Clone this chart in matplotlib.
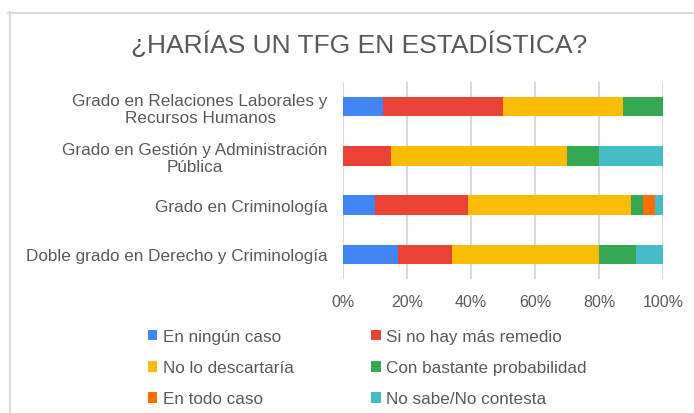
import matplotlib
matplotlib.use("Agg")
import matplotlib.pyplot as plt
from matplotlib.lines import Line2D
from matplotlib.patches import Patch
import numpy as np

plt.rcParams['font.family'] = ['Liberation Sans', 'DejaVu Sans']

title = "¿HARÍAS UN TFG EN ESTADÍSTICA?"
categories = [
    "Grado en Relaciones Laborales y\nRecursos Humanos",
    "Grado en Gestión y Administración\nPública",
    "Grado en Criminología",
    "Doble grado en Derecho y Criminología",
]
series_names = [
    "En ningún caso",
    "Si no hay más remedio",
    "No lo descartaría",
    "Con bastante probabilidad",
    "En todo caso",
    "No sabe/No contesta",
]
en_ningun_caso = [12.5, 0.0, 10.0, 17.2]
si_no_hay_mas_remedio = [37.5, 15.0, 29.1, 16.9]
no_lo_descartaria = [37.5, 55.0, 50.9, 45.8]
con_bastante_probabilidad = [12.5, 10.0, 3.8, 11.6]
en_todo_caso = [0.0, 0.0, 3.6, 0.0]
no_sabe_no_contesta = [0.0, 20.0, 2.6, 8.5]
series_values = [en_ningun_caso, si_no_hay_mas_remedio, no_lo_descartaria,
                 con_bastante_probabilidad, en_todo_caso, no_sabe_no_contesta]
colors = ["#4285F4", "#EA4335", "#FBBC04", "#34A853", "#FF6D01", "#46BDC6"]
x_ticks = [0, 20, 40, 60, 80, 100]
x_tick_labels = ["0%", "20%", "40%", "60%", "80%", "100%"]

text_color = "#595959"
grid_color = "#D9D9D9"

fig = plt.figure(figsize=(6.94, 4.14), dpi=100)
ax = fig.add_axes([343/694, 1-280/414, 320/694, 197/414])

y = np.arange(len(categories))
left = np.zeros(len(categories))
handles = []
for name, vals, c in zip(series_names, series_values, colors):
    vals = np.array(vals)
    ax.barh(y, vals, left=left, height=0.4, color=c, zorder=3, label=name)
    left += vals
    handles.append(Patch(facecolor=c, edgecolor='none', label=name))

ax.set_ylim(len(categories)-0.5, -0.5)
ax.set_xlim(0, 100)
ax.set_yticks(y)
ax.set_yticklabels(categories, fontsize=12.3, color=text_color,
                   multialignment='center', linespacing=1.12)
ax.set_xticks(x_ticks)
ax.set_xticklabels(x_tick_labels, fontsize=11.5, color=text_color)
ax.tick_params(axis='both', length=0)
ax.tick_params(axis='y', pad=11)
ax.tick_params(axis='x', pad=11)
ax.grid(axis='x', color=grid_color, linewidth=1.5, zorder=0)
ax.set_axisbelow(True)
for s in ax.spines.values():
    s.set_visible(False)

fig.text(359/694, 1-45/414, title, ha='center', va='center', fontsize=19, color=text_color)

order = [0, 2, 4, 1, 3, 5]
leg = fig.legend([handles[i] for i in order], [series_names[i] for i in order],
                 ncol=2, loc='upper left', bbox_to_anchor=(148/694, 1-330/414),
                 frameon=False, fontsize=12.3, handlelength=0.55, handleheight=0.6,
                 handletextpad=0.3, columnspacing=4.55, labelspacing=0.95,
                 borderaxespad=0, borderpad=0)
for t in leg.get_texts():
    t.set_color(text_color)

# outer frame (top and left borders visible)
fig.add_artist(Line2D([8/694, 1], [1-13.5/414]*2, color=grid_color, linewidth=1.5, transform=fig.transFigure))
fig.add_artist(Line2D([10/694]*2, [0, 1-13/414], color=grid_color, linewidth=1.5, transform=fig.transFigure))

fig.savefig("out.png", dpi=100, facecolor="white")
